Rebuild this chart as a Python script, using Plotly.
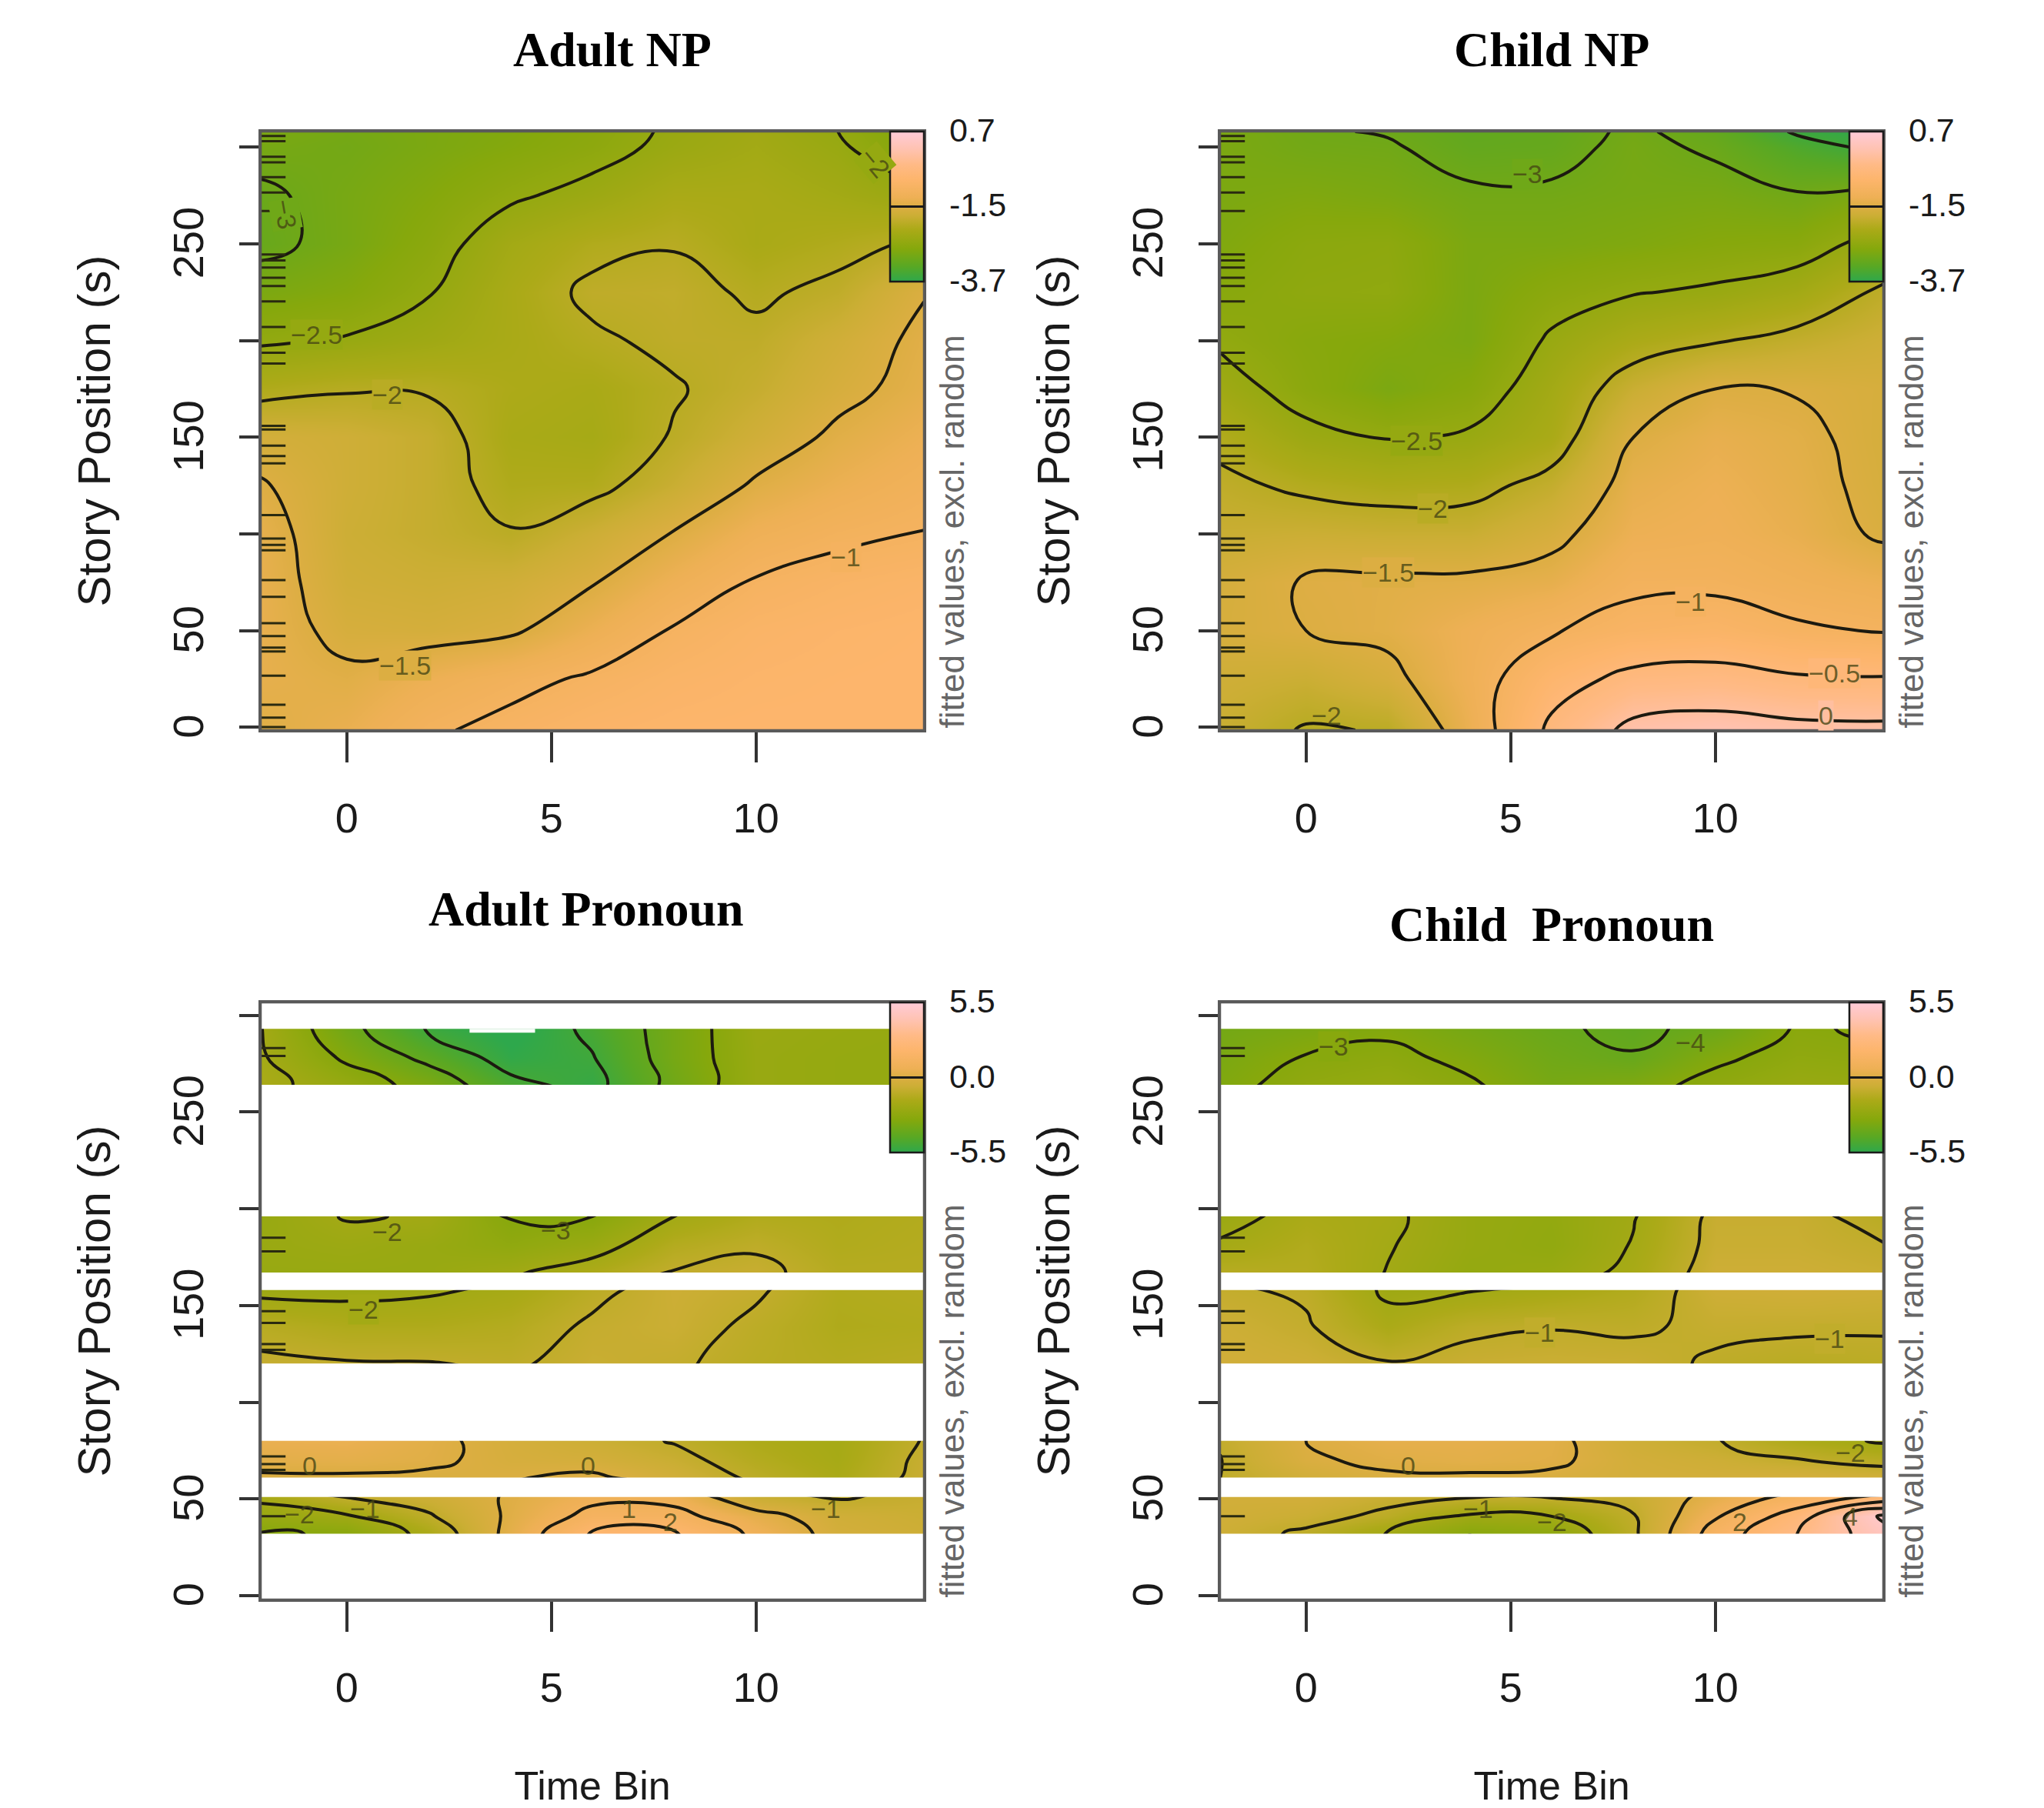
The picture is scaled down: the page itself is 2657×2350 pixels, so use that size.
import plotly.graph_objects as go

W, H = 2649, 2342   # the page's own 8 px body margin fills the rest of the 2657x2350 window
MARGIN = 8
TITLES = ["Adult NP", "Child NP", "Adult Pronoun", "Child  Pronoun"]
TIME_BINS = [-2.1, 0, 2, 4, 6, 8, 10, 12, 14.1]
STORY_TOP = [-1.4, 25, 50, 75, 100, 125, 150, 175, 200, 225, 250, 275, 300, 308]
STORY_BOTTOM = [25, 32, 41, 51, 61, 70, 80, 100, 120, 139, 158, 167, 181, 196, 230, 264, 278, 293, 310]
X_TICKS = [0, 5, 10]
Y_TICKS = [0, 50, 100, 150, 200, 250, 300]
Y_TICKTEXT = ["0", "50", "", "150", "", "250", ""]
KEY_TOP = [-3.7, -1.5, 0.7]
KEY_BOTTOM = [-5.5, 0.0, 5.5]
KEY_TOP_TEXT = ["-3.7", "-1.5", "0.7"]
KEY_BOTTOM_TEXT = ["-5.5", "0.0", "5.5"]
RUG_TOP = [305.7, 303, 295, 292.1, 284.4, 276.5, 266.9, 244.5, 241.4, 237.7, 232.4, 228.2, 220.2, 207, 193.7, 188.1,
           155.9, 154, 145.6, 140.3, 136.5, 109.8, 97.6, 94.3, 91.6, 76.1, 67.5, 53.9, 47.2, 41.3, 39.3, 26.7, 11.7, 5.1, 0.2]
RUG_BOTTOM = [283, 279, 185, 178, 147, 141, 130, 127, 72, 68, 65, 41]

Z_ADULT_NP = [
    [-1.45, -1.30, -1.05, -0.90, -0.78, -0.72, -0.70, -0.70, -0.70],
    [-1.35, -1.43, -1.25, -1.10, -0.95, -0.82, -0.75, -0.72, -0.70],
    [-1.33, -1.60, -1.63, -1.55, -1.26, -0.97, -0.82, -0.76, -0.72],
    [-1.33, -1.70, -1.75, -1.70, -1.52, -1.22, -0.97, -0.87, -0.80],
    [-1.35, -1.75, -1.85, -1.98, -1.75, -1.48, -1.20, -1.07, -0.99],
    [-1.47, -1.72, -1.85, -2.12, -2.10, -1.80, -1.45, -1.27, -1.12],
    [-1.65, -1.72, -1.85, -2.20, -2.25, -1.97, -1.70, -1.43, -1.25],
    [-2.12, -2.03, -2.03, -2.15, -2.20, -2.03, -1.85, -1.60, -1.38],
    [-2.55, -2.47, -2.35, -2.20, -2.05, -1.93, -1.93, -1.70, -1.42],
    [-2.85, -2.75, -2.52, -2.20, -1.93, -1.90, -2.05, -1.92, -1.52],
    [-3.08, -2.90, -2.65, -2.30, -2.10, -2.02, -2.20, -2.10, -1.95],
    [-3.05, -2.90, -2.75, -2.55, -2.40, -2.20, -2.20, -2.30, -2.45],
    [-2.90, -2.95, -2.85, -2.75, -2.62, -2.42, -2.30, -2.45, -2.80],
    [-2.85, -2.93, -2.85, -2.78, -2.65, -2.45, -2.32, -2.50, -2.85],
]
Z_CHILD_NP = [
    [-1.80, -2.03, -1.98, -1.27, -0.41, 0.12, 0.20, 0.12, 0.10],
    [-1.72, -1.78, -1.60, -1.20, -0.68, -0.38, -0.33, -0.45, -0.47],
    [-1.60, -1.50, -1.42, -1.22, -1.03, -0.87, -0.82, -0.95, -1.02],
    [-1.62, -1.47, -1.43, -1.42, -1.35, -1.07, -1.07, -1.17, -1.27],
    [-1.80, -1.77, -1.80, -1.80, -1.60, -1.25, -1.20, -1.32, -1.55],
    [-1.92, -2.07, -2.15, -2.12, -1.87, -1.35, -1.25, -1.38, -1.60],
    [-2.10, -2.40, -2.52, -2.45, -2.20, -1.50, -1.33, -1.42, -1.62],
    [-2.35, -2.65, -2.85, -2.70, -2.30, -1.80, -1.50, -1.52, -1.60],
    [-2.55, -2.70, -2.75, -2.85, -2.45, -2.18, -2.03, -1.88, -1.73],
    [-2.70, -2.60, -2.58, -2.85, -2.65, -2.52, -2.45, -2.30, -1.93],
    [-2.80, -2.65, -2.62, -2.85, -2.85, -2.80, -2.72, -2.68, -2.35],
    [-2.85, -2.80, -2.85, -2.95, -2.95, -2.90, -2.88, -2.97, -2.80],
    [-2.85, -2.95, -2.97, -3.12, -3.10, -2.92, -3.05, -3.35, -3.60],
    [-2.85, -2.97, -3.02, -3.15, -3.12, -2.95, -3.12, -3.55, -3.70],
]
Z_ADULT_PRONOUN = [
    [-3.05, -2.95, -1.70, 0.30, 2.10, 2.10, 0.80, -0.35, -0.60],
    [-3.05, -2.95, -1.70, 0.30, 2.10, 2.10, 0.80, -0.35, -0.60],
    [-2.40, -2.10, -1.10, 0.15, 1.30, 1.30, 0.35, -0.50, -0.70],
    [-1.80, -0.97, -0.60, 0.10, 0.75, 0.70, -0.75, -1.07, -0.80],
    [-0.10, -0.10, -0.15, -0.05, 0.15, -0.45, -1.15, -1.70, -0.75],
    [0.25, 0.30, 0.15, -0.25, -0.35, -0.75, -1.40, -1.85, -0.80],
    [0.50, 0.55, 0.20, -0.30, -0.65, -1.05, -1.60, -1.90, -0.95],
    [-0.20, -0.20, -0.40, -0.70, -0.70, -0.95, -1.40, -1.65, -1.10],
    [-0.85, -0.95, -0.97, -1.10, -0.75, -0.90, -1.25, -1.40, -1.30],
    [-1.30, -1.55, -1.55, -1.40, -0.88, -0.70, -1.15, -1.55, -1.50],
    [-2.20, -2.20, -2.10, -1.85, -1.20, -0.65, -0.90, -1.50, -1.40],
    [-2.40, -2.40, -2.40, -2.10, -1.60, -0.95, -0.80, -1.35, -1.35],
    [-2.35, -2.25, -2.40, -2.70, -2.35, -1.40, -1.10, -1.50, -1.40],
    [-2.45, -1.95, -2.05, -3.05, -3.00, -2.00, -1.50, -1.55, -1.45],
    [-2.30, -2.50, -3.00, -3.80, -3.80, -3.00, -2.40, -2.40, -2.30],
    [-1.70, -2.50, -3.35, -4.75, -5.30, -3.70, -2.40, -2.50, -2.55],
    [-1.90, -3.15, -4.25, -5.40, -5.05, -3.55, -2.40, -2.50, -2.55],
    [-1.97, -3.70, -5.10, -5.70, -4.80, -3.55, -2.35, -2.45, -2.50],
    [-1.97, -3.70, -5.10, -5.70, -4.80, -3.55, -2.35, -2.45, -2.50],
]
Z_CHILD_PRONOUN = [
    [-0.60, -1.15, -2.05, -3.00, -2.80, -1.15, 1.45, 3.00, 4.60],
    [-0.60, -1.15, -2.05, -3.00, -2.80, -1.15, 1.45, 3.00, 4.60],
    [-0.50, -0.70, -1.20, -2.15, -2.00, -1.05, 0.90, 2.50, 5.20],
    [-0.45, -0.40, -0.75, -0.95, -0.95, -0.80, 0.35, 1.30, 2.30],
    [-1.05, -0.45, -0.10, -0.10, -0.15, -0.35, -0.40, -0.30, -0.45],
    [-1.02, -0.10, 0.15, 0.25, 0.15, -0.40, -0.60, -0.95, -1.30],
    [-0.95, 0.00, 0.35, 0.35, 0.20, -0.55, -0.95, -1.60, -2.10],
    [-0.70, -0.30, -0.30, -0.30, -0.30, -0.65, -1.00, -1.40, -1.60],
    [-0.45, -0.60, -0.95, -0.75, -0.70, -0.75, -1.10, -1.25, -1.20],
    [-0.60, -0.92, -1.70, -1.15, -1.03, -1.10, -0.85, -0.90, -0.93],
    [-0.90, -1.10, -2.15, -2.05, -1.80, -1.45, -0.60, -0.50, -0.60],
    [-1.30, -1.40, -2.03, -2.55, -2.40, -1.80, -0.60, -0.60, -0.75],
    [-1.90, -1.50, -1.95, -2.45, -2.65, -1.95, -0.75, -0.75, -0.97],
    [-2.30, -1.70, -1.85, -2.45, -2.60, -2.05, -0.80, -0.80, -1.25],
    [-2.80, -2.30, -2.20, -2.65, -3.00, -2.70, -1.80, -1.60, -1.90],
    [-3.25, -2.70, -2.50, -2.90, -3.50, -3.30, -2.75, -2.40, -2.50],
    [-3.40, -2.95, -2.80, -3.20, -3.70, -3.95, -3.15, -2.70, -2.80],
    [-3.60, -3.40, -3.15, -3.55, -3.90, -4.15, -3.80, -2.92, -3.10],
    [-3.60, -3.40, -3.15, -3.55, -3.90, -4.15, -3.80, -2.92, -3.10],
]
# gaps in the bottom panels where the fit is not drawn (too far from data)
GAP_LOW = [-5, 51, 80, 158, 196, 293]
GAP_HIGH = [32, 61, 120, 167, 264, 312]

COLORSCALE = [
    [0.00, "#2ea84c"], [0.10, "#58a824"], [0.22, "#86a80c"], [0.35, "#acaa18"], [0.44, "#ccae35"],
    [0.50, "#dcae42"], [0.56, "#eeb055"], [0.68, "#fdb56c"], [0.78, "#ffba86"], [0.88, "#ffc2b0"], [1.00, "#ffcbd8"],
]

# text, contour level, time bin, story position, angle, whether it breaks the contour line
LABELS_TOP = [
    [("−2.5", -2.5, -0.73, 203, 0, True), ("−2", -2, 1.0, 172, 0, True), ("−1.5", -1.5, 1.43, 32, 0, True), ("−1", -1, 12.2, 88, 0, True),
     ("−3", -3, -1.5, 265, 80, True), ("−2", -2.5, 12.9, 292, 50, True)],
    [("−3", -3, 5.4, 286, 0, True), ("−2.5", -2.5, 2.7, 148, 0, True), ("−2", -2, 3.1, 113, 0, True), ("−1.5", -1.5, 2.0, 80, 0, True),
     ("−1", -1, 9.4, 65, 0, True), ("−0.5", -0.5, 12.9, 28, 0, True), ("0", 0, 12.7, 6, 0, True), ("−2", -2, 0.5, 6, 0, False)],
]
LABELS_BOTTOM = [
    [("−2", -2, 1.0, 188, 0, False), ("−3", -3, 5.1, 189, 0, False), ("−2", -2, 0.4, 148, 0, True), ("0", 0, -0.9, 67, 0, False), ("0", 0, 5.9, 67, 0, False),
     ("−2", -2, -1.15, 42, 0, False), ("−1", -1, 0.45, 45, 0, False), ("1", 1, 6.9, 45, 0, False), ("2", 2, 7.9, 38, 0, False), ("−1", -1, 11.7, 45, 0, False)],
    [("−3", -3, 0.67, 284, 0, True), ("−4", -4, 9.4, 286, 0, False), ("−1", -1, 5.7, 136, 0, True), ("−1", -1, 12.8, 133, 0, True), ("0", 0, 2.5, 67, 0, False),
     ("−1", -1, 4.2, 45, 0, False), ("−2", -2, 6.0, 38, 0, False), ("2", 2, 10.6, 38, 0, False), ("4", 4, 13.3, 41, 0, False), ("−2", -2, 13.3, 74, 0, False)],
]

PANELS = [
    dict(x=339, y0=171, y1=949, story=STORY_TOP, z=Z_ADULT_NP, key=KEY_TOP, keytext=KEY_TOP_TEXT, step=0.5, rug=RUG_TOP, bands=False,
         labels=LABELS_TOP[0], ymin=-1.4, ymax=308, tx=796, ty=64, notch=False),
    dict(x=1586, y0=171, y1=949, story=STORY_TOP, z=Z_CHILD_NP, key=KEY_TOP, keytext=KEY_TOP_TEXT, step=0.5, rug=RUG_TOP, bands=False,
         labels=LABELS_TOP[1], ymin=-1.4, ymax=308, tx=2017, ty=64, notch=False),
    dict(x=339, y0=1303, y1=2079, story=STORY_BOTTOM, z=Z_ADULT_PRONOUN, key=KEY_BOTTOM, keytext=KEY_BOTTOM_TEXT, step=1, rug=RUG_BOTTOM, bands=True,
         labels=LABELS_BOTTOM[0], ymin=-2, ymax=306.6, tx=762, ty=1181, notch=True),
    dict(x=1586, y0=1303, y1=2079, story=STORY_BOTTOM, z=Z_CHILD_PRONOUN, key=KEY_BOTTOM, keytext=KEY_BOTTOM_TEXT, step=1, rug=RUG_BOTTOM, bands=True,
         labels=LABELS_BOTTOM[1], ymin=-2, ymax=306.6, tx=2017, ty=1201, notch=False),
]
PW = 862
KEY_LEN = 195


def fx(px):
    return (px - MARGIN) / W


def fy(py):
    return 1 - (py - MARGIN) / H


def color_at(v, lo, hi):
    t = (v - lo) / (hi - lo)
    for (a, ca), (b, cb) in zip(COLORSCALE, COLORSCALE[1:]):
        if a <= t <= b:
            f = (t - a) / (b - a)
            c1 = [int(ca[i:i + 2], 16) for i in (1, 3, 5)]
            c2 = [int(cb[i:i + 2], 16) for i in (1, 3, 5)]
            return "rgb(%d,%d,%d)" % tuple(round(p + (q - p) * f) for p, q in zip(c1, c2))
    return "white"


fig = go.Figure()
layout = dict(width=W, height=H, margin=dict(l=0, r=0, t=0, b=0, autoexpand=False), paper_bgcolor="white", plot_bgcolor="white",
              showlegend=False, font=dict(family="Liberation Sans", color="#1a1a1a"))
shapes, annots = [], []
TICK_FONT_X = dict(size=54, family="Liberation Sans", color="#1a1a1a")
TICK_FONT_Y = dict(size=56, family="Liberation Sans", color="#1a1a1a")

for i, p in enumerate(PANELS):
    n = "" if i == 0 else str(i + 1)
    xa, ya = "x" + n, "y" + n
    lo, hi = p["key"][0], p["key"][-1]
    fig.add_trace(go.Heatmap(
        x=TIME_BINS, y=p["story"], z=p["z"], zmin=lo, zmax=hi, zsmooth="best", colorscale=COLORSCALE, xaxis=xa, yaxis=ya,
        showscale=True,
        colorbar=dict(
            x=fx(p["x"] + PW - 44), xanchor="left", y=fy(p["y0"]), yanchor="top", thickness=44, thicknessmode="pixels",
            len=KEY_LEN, lenmode="pixels", xpad=0, ypad=0, outlinecolor="#1a1a1a", outlinewidth=2.5, borderwidth=0,
            tickmode="array", tickvals=p["key"], ticks="inside", ticklen=44, tickwidth=3, tickcolor="#1a1a1a", showticklabels=False,
        ),
    ))
    fig.add_trace(go.Contour(
        x=TIME_BINS, y=p["story"], z=p["z"], xaxis=xa, yaxis=ya, showscale=False, hoverinfo="skip",
        contours=dict(coloring="none", start=-6, end=6, size=p["step"]),
        line=dict(color="#1c1a10", width=4, smoothing=1.3),
    ))
    fig.add_trace(go.Scatter(
        x=[TIME_BINS[0]] * len(p["rug"]), y=p["rug"], mode="markers", xaxis=xa, yaxis=ya, hoverinfo="skip",
        marker=dict(symbol="line-ew", size=46, line=dict(color="#2a2a10", width=3)),
    ))
    axline = dict(showline=True, linecolor="#5a5a5a", linewidth=2.5, mirror=True, showgrid=False, zeroline=False, automargin=False,
                  ticks="outside", tickcolor="#333333", tickwidth=3.5)
    layout["xaxis" + n] = dict(
        axline, domain=[fx(p["x"]), fx(p["x"] + PW)], range=[-2.1, 14.1], anchor=ya, tickmode="array",
        tickvals=X_TICKS, ticklen=39, tickfont=TICK_FONT_X, ticklabelstandoff=26,
        title=dict(text="Time Bin" if p["bands"] else "", font=dict(size=52, family="Liberation Sans"), standoff=84),
    )
    layout["yaxis" + n] = dict(
        axline, domain=[fy(p["y1"]), fy(p["y0"])], range=[p["ymin"], p["ymax"]], anchor=xa,
        tickmode="array", tickvals=Y_TICKS, ticktext=Y_TICKTEXT, tickangle=-90, ticklen=25, tickfont=TICK_FONT_Y,
        ticklabelstandoff=25, ticklabelshift=7, title=dict(text="Story Position (s)", font=dict(size=60), standoff=50),
    )
    if p["bands"]:
        for a, b in zip(GAP_LOW, GAP_HIGH):
            shapes.append(dict(type="rect", xref=xa, yref=ya, x0=-2.1, x1=14.1, y0=a, y1=b, fillcolor="white", line=dict(width=0), layer="above"))
    if p["notch"]:
        shapes.append(dict(type="rect", xref=xa, yref=ya, x0=3, x1=4.6, y0=291, y1=293, fillcolor="white", line=dict(width=0), layer="above"))
    shapes.append(dict(type="rect", xref=xa, yref=ya, x0=-2.1, x1=14.1, y0=p["ymin"], y1=p["ymax"],
                       fillcolor="rgba(0,0,0,0)", line=dict(width=2.5, color="#5a5a5a"), layer="above"))
    for text, level, x, y, ang, breaks in p["labels"]:
        annots.append(dict(text=text, x=x, y=y, xref=xa, yref=ya, showarrow=False, textangle=ang, borderpad=0,
                           bgcolor=color_at(level, lo, hi) if breaks else "rgba(0,0,0,0)",
                           font=dict(size=34, family="Liberation Sans", color="rgba(70,70,20,0.8)")))
    for k, text in enumerate(p["keytext"]):
        annots.append(dict(text=text, x=fx(p["x"] + PW + 31), y=fy(p["y0"] + KEY_LEN * (1 - k / 2) - 2), xref="paper", yref="paper", showarrow=False,
                           xanchor="left", yanchor="middle", font=dict(size=43, family="Liberation Sans", color="#1a1a1a")))
    annots.append(dict(text="<b>" + TITLES[i].replace("  ", "\u00a0\u00a0") + "</b>", x=fx(p["tx"]), y=fy(p["ty"]), xref="paper", yref="paper",
                       showarrow=False, font=dict(family="Liberation Serif", size=64, color="black"), xanchor="center", yanchor="middle"))
    annots.append(dict(text="fitted values, excl. random", x=fx(p["x"] + PW + 36), y=fy(p["y1"]), xref="paper", yref="paper",
                       showarrow=False, textangle=-90, xanchor="center", yanchor="bottom",
                       font=dict(size=44, family="Liberation Sans", color="#666666")))

layout["shapes"] = shapes
layout["annotations"] = annots
fig.update_layout(**layout)
fig.write_html("out.html")
